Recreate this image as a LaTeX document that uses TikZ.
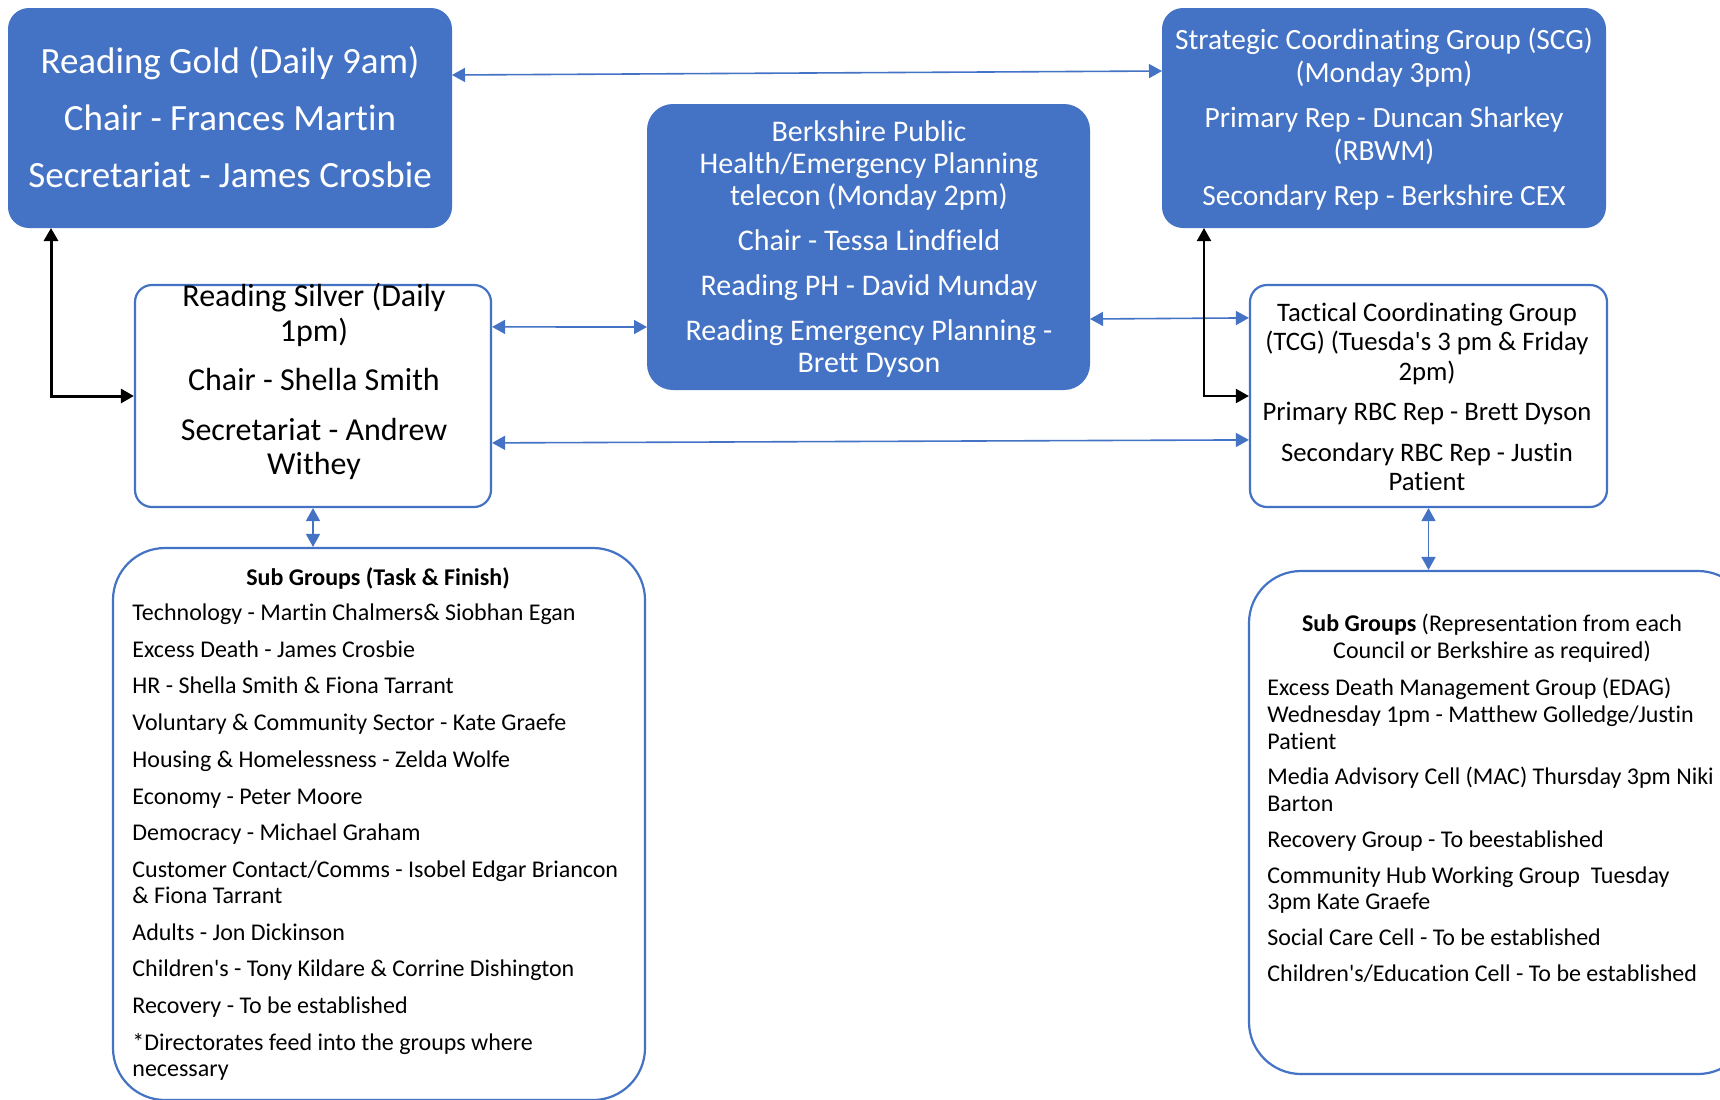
\documentclass[tikz,border=0pt]{standalone}
\usepackage{fontspec}
\setmainfont{Carlito}[Ligatures={NoCommon}]
\usetikzlibrary{arrows.meta,calc}
\definecolor{obl}{HTML}{4472C4}
\begin{document}
\begin{tikzpicture}[x=0.5pt,y=-0.5pt,
  bluebox/.style={draw=obl, fill=obl, line width=1pt, inner sep=0pt},
  whitebox/.style={draw=obl, fill=white, line width=1.1pt, inner sep=0pt},
  wtext/.style={text=white, align=center, inner sep=0pt, anchor=north},
  ktext/.style={text=black, align=center, inner sep=0pt, anchor=north},
  ltext/.style={text=black, align=left, inner sep=0pt, anchor=north west},
  bluearrow/.style={draw=obl, line width=0.8pt, arrows={Triangle[length=6.5pt,width=7pt]-Triangle[length=6.5pt,width=7pt]}},
  blackarrow/.style={draw=black, arrows={Triangle[length=6.5pt,width=7pt]-Triangle[length=6.5pt,width=7pt]}}
]
\useasboundingbox (0,0) rectangle (1720,1099);
\fill[white] (0,0) rectangle (1720,1099);

% boxes
\node[bluebox, rounded corners=10pt, minimum width=221pt, minimum height=109pt] (gold) at (230,118) {};
\node[bluebox, rounded corners=10pt, minimum width=221pt, minimum height=109pt] (scg) at (1384,118) {};
\node[bluebox, rounded corners=12.5pt, minimum width=220.5pt, minimum height=142pt] (ph) at (868.5,247) {};
\node[whitebox, rounded corners=8.5pt, minimum width=178pt, minimum height=111pt] (silver) at (313,396) {};
\node[whitebox, rounded corners=8.5pt, minimum width=178.5pt, minimum height=111pt] (tcg) at (1428.5,396) {};
\node[whitebox, rounded corners=26pt, minimum width=266pt, minimum height=276pt] (lsub) at (379,824) {};
\node[whitebox, rounded corners=26pt, minimum width=250.5pt, minimum height=251.5pt] (rsub) at (1499.5,822.5) {};

% texts
\node[wtext, font={\fontsize{18.5}{28.5}\selectfont}] (goldT) at (230,46)
  {Reading Gold (Daily 9am)\\Chair - Frances Martin\\Secretariat - James Crosbie};
\node[wtext, font={\fontsize{14.7}{16.5}\selectfont}] (scgT) at (1384,28)
  {Strategic Coordinating Group (SCG)\\(Monday 3pm)\\[6pt]Primary Rep - Duncan Sharkey\\(RBWM)\\[6pt]Secondary Rep - Berkshire CEX};
\node[wtext, font={\fontsize{15}{16}\selectfont}] (phT) at (869,120)
  {Berkshire Public\\Health/Emergency Planning\\telecon (Monday 2pm)\\[6.5pt]Chair - Tessa Lindfield\\[6.5pt]Reading PH - David Munday\\[6.5pt]Reading Emergency Planning -\\Brett Dyson};
\node[ktext, font={\fontsize{16}{17.25}\selectfont}] (silverT) at (314,283)
  {Reading Silver (Daily\\1pm)\\[7.5pt]Chair - Shella Smith\\[7.5pt]Secretariat - Andrew\\Withey};
\node[ktext, font={\fontsize{13.35}{14.7}\selectfont}] (tcgT) at (1427,302.5)
  {Tactical Coordinating Group\\(TCG) (Tuesda\textquotesingle s 3 pm \& Friday\\2pm)\\[5.6pt]Primary RBC Rep - Brett Dyson\\[5.6pt]Secondary RBC Rep - Justin\\Patient};

\node[ktext, font={\fontsize{12}{13}\selectfont\bfseries}] (lsubT) at (378,567)
  {Sub Groups (Task \& Finish)};
\node[ltext, font={\fontsize{12}{13}\selectfont}] (lsubL) at (132,603.5)
  {Technology - Martin Chalmers\& Siobhan Egan\\[5.35pt]
   Excess Death - James Crosbie\\[5.35pt]
   HR - Shella Smith \& Fiona Tarrant\\[5.35pt]
   Voluntary \& Community Sector - Kate Graefe\\[5.35pt]
   Housing \& Homelessness - Zelda Wolfe\\[5.35pt]
   Economy - Peter Moore\\[5.35pt]
   Democracy - Michael Graham\\[5.35pt]
   Customer Contact/Comms - Isobel Edgar Briancon\\\& Fiona Tarrant\\[5.35pt]
   Adults - Jon Dickinson\\[5.35pt]
   Children\textquotesingle s - Tony Kildare \& Corrine Dishington\\[5.35pt]
   Recovery - To be established\\[5.35pt]
   *Directorates feed into the groups where\\necessary};

\node[ktext, font={\fontsize{12}{13.5}\selectfont}] (rsubT) at (1492,614)
  {\textbf{Sub Groups} (Representation from each\\Council or Berkshire as required)};
\node[ltext, font={\fontsize{12}{13.3}\selectfont}] (rsubL) at (1267,678)
  {Excess Death Management Group (EDAG)\\Wednesday 1pm - Matthew Golledge/Justin\\Patient\\[4.6pt]
   Media Advisory Cell (MAC) Thursday 3pm Niki\\Barton\\[4.6pt]
   Recovery Group - To beestablished\\[4.6pt]
   Community Hub Working Group\ \ Tuesday\\3pm Kate Graefe\\[4.6pt]
   Social Care Cell - To be established\\[4.6pt]
   Children\textquotesingle s/Education Cell - To be established};

% connectors
\draw[bluearrow] ($(gold.north east)+(0,67)$) -- ($(scg.north west)+(0,63)$);
\draw[bluearrow] ($(silver.north east)+(0,43)$) -- ($(ph.north west)+(0,223)$);
\draw[bluearrow] ($(ph.north east)+(0,215)$) -- ($(tcg.north west)+(0,34)$);
\draw[bluearrow] ($(silver.north east)+(0,159)$) -- ($(tcg.north west)+(0,156)$);
\draw[bluearrow] (silver.south) -- (silver.south |- lsub.north);
\draw[bluearrow] (tcg.south) -- (tcg.south |- rsub.north);
\draw[blackarrow, line width=1.5pt] ($(gold.south west)+(43,0)$) |- (silver.west);
\draw[blackarrow, line width=1pt] ($(scg.south west)+(42,0)$) |- (tcg.west);
\end{tikzpicture}
\end{document}
